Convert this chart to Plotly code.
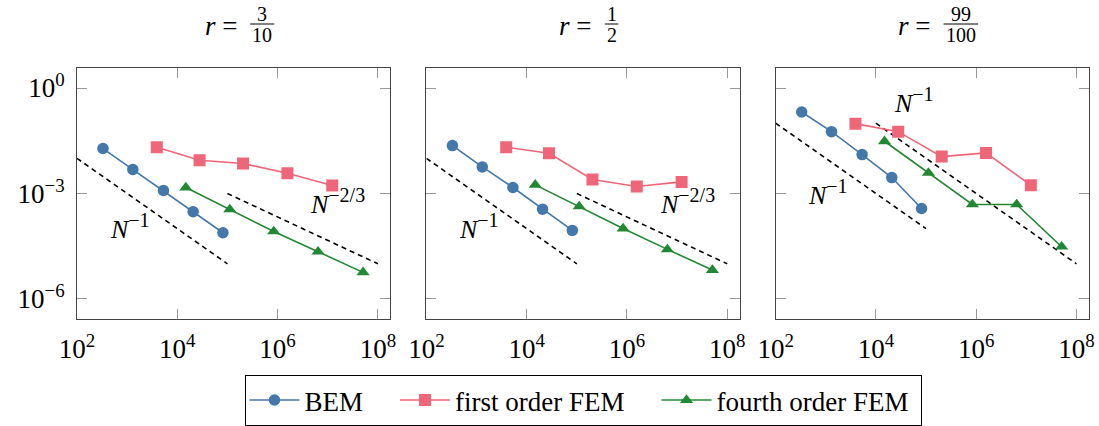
import plotly.graph_objects as go

FONT = "'Liberation Serif', 'Times New Roman', Times, 'DejaVu Serif', serif"

# ---------------- data ----------------
series_names = ["BEM", "first order FEM", "fourth order FEM"]
n_bem = [330, 1300, 5300, 20700, 81300]
n_fem1 = [3900, 27800, 205000, 1.57e6, 1.23e7]
n_fem4 = [14800, 111400, 837500, 6.41e6, 5.06e7]

title_num = ["3", "1", "99"]
title_den = ["10", "2", "100"]

bem_r1 = [1.90e-2, 4.80e-3, 1.22e-3, 3.02e-4, 7.64e-5]
fem1_r1 = [2.07e-2, 8.83e-3, 7.11e-3, 3.78e-3, 1.69e-3]
fem4_r1 = [1.48e-3, 3.52e-4, 8.34e-5, 2.21e-5, 5.71e-6]

bem_r2 = [2.31e-2, 5.71e-3, 1.48e-3, 3.59e-4, 8.91e-5]
fem1_r2 = [2.07e-2, 1.40e-2, 2.50e-3, 1.58e-3, 2.14e-3]
fem4_r2 = [1.76e-3, 4.28e-4, 1.01e-4, 2.57e-5, 6.65e-6]

bem_r3 = [2.08e-1, 5.75e-2, 1.28e-2, 2.84e-3, 3.75e-4]
fem1_r3 = [9.70e-2, 5.75e-2, 1.12e-2, 1.43e-2, 1.73e-3]
fem4_r3 = [3.06e-2, 3.86e-3, 4.88e-4, 4.88e-4, 3.06e-5]

# reference slopes (endpoints)
ref1_x = [1e2, 1e5]; ref1_y_r12 = [1e-2, 1e-5]          # N^-1
ref23_x = [1e5, 1e8]; ref23_y = [1e-3, 1e-5]            # N^-2/3
ref1a_y_r3 = [1e-1, 1e-4]                               # N^-1 (BEM, r=99/100)
ref1b_x = [1e4, 1e8]; ref1b_y_r3 = [1e-1, 1e-5]         # N^-1 (FEM, r=99/100)

x_tickvals = [1e2, 1e4, 1e6, 1e8]
x_ticktext = ["10<sup>2</sup>", "10<sup>4</sup>", "10<sup>6</sup>", "10<sup>8</sup>"]
y_tickvals = [1, 1e-3, 1e-6]
y_ticktext = ["10<sup>0</sup>", "10<sup>\u22123</sup>", "10<sup>\u22126</sup>"]

# ---------------- style ----------------
colors = ["#4477AA", "#EE6677", "#228833"]
symbols = ["circle", "square", "triangle-up"]
msizes = [11.5, 12, 11.5]

W, H = 1099, 426
ML, MR, MT, MB = 77, 10, 68, 107
PW = W - ML - MR
PH = H - MT - MB
domains = [[0.0, 0.3097], [0.3453, 0.6549], [0.6904, 1.0]]

def slope_label(exp):
    return "<i>N</i><sup><span style='font-size:20px'>\u2212" + exp + "</span></sup>"

panels = [
    dict(bem=bem_r1, fem1=fem1_r1, fem4=fem4_r1,
         refs=[(ref1_x, ref1_y_r12), (ref23_x, ref23_y)],
         labels=[("1", 3.05, -3.93), ("2/3", 7.2, -3.22)]),
    dict(bem=bem_r2, fem1=fem1_r2, fem4=fem4_r2,
         refs=[(ref1_x, ref1_y_r12), (ref23_x, ref23_y)],
         labels=[("1", 3.05, -3.93), ("2/3", 7.2, -3.22)]),
    dict(bem=bem_r3, fem1=fem1_r3, fem4=fem4_r3,
         refs=[(ref1_x, ref1a_y_r3), (ref1b_x, ref1b_y_r3)],
         labels=[("1", 3.04, -2.96), ("1", 4.75, -0.36)]),
]

fig = go.Figure()
annotations = []
shapes = []

def px2paper_x(v):
    return v / PW

def up2paper_y(v):
    return 1 + v / PH

legend_pad = ["\u00a0" * 4, "\u00a0" * 4, "\u00a0"]

for i, p in enumerate(panels):
    k = "" if i == 0 else str(i + 1)
    xa, ya = "x" + k, "y" + k
    for (rx, ry) in p["refs"]:
        fig.add_trace(go.Scatter(x=rx, y=ry, mode="lines", xaxis=xa, yaxis=ya,
                                 line=dict(color="black", width=1.6, dash="5px,4px"),
                                 showlegend=False, hoverinfo="skip"))
    for j, (nx, ey) in enumerate([(n_bem, p["bem"]), (n_fem1, p["fem1"]), (n_fem4, p["fem4"])]):
        fig.add_trace(go.Scatter(x=nx, y=ey, mode="lines+markers", xaxis=xa, yaxis=ya,
                                 name=series_names[j] + legend_pad[j],
                                 legendgroup=series_names[j],
                                 showlegend=(i == 0),
                                 line=dict(color=colors[j], width=1.6),
                                 marker=dict(symbol=symbols[j], size=msizes[j], color=colors[j],
                                             line=dict(width=0))))
    for (ex, lx, ly) in p["labels"]:
        annotations.append(dict(text=slope_label(ex), x=lx, y=ly, xref=xa, yref=ya,
                                showarrow=False, xanchor="center", yanchor="middle",
                                font=dict(family=FONT, size=26, color="black")))

    axis_common = dict(type="log", showline=True, linecolor="#444", linewidth=1,
                       mirror="ticks", ticks="inside", ticklen=10, tickcolor="#999",
                       tickwidth=1, showgrid=False, zeroline=False, automargin=False,
                       tickfont=dict(family=FONT, size=27, color="black"))
    fig.layout["xaxis" + k] = dict(axis_common, domain=domains[i], anchor=ya,
                                   range=[2, 8.25], tickvals=x_tickvals, ticktext=x_ticktext,
                                   ticklabelstandoff=6)
    fig.layout["yaxis" + k] = dict(axis_common, domain=[0, 1], anchor=xa,
                                   range=[-6.57, 0.57], tickvals=y_tickvals, ticktext=y_ticktext,
                                   showticklabels=(i == 0), ticklabelstandoff=6)

    # title: r = num/den as stacked fraction
    cx = (domains[i][0] + domains[i][1]) / 2 * PW  # pixels from plot-left
    fw = 10.5 * max(len(title_num[i]), len(title_den[i]))
    total = 45 + 12 + fw
    left = cx - total / 2
    eq_right = left + 45
    fc = left + 57 + fw / 2
    annotations.append(dict(text="<i>r</i> =", x=px2paper_x(eq_right), y=up2paper_y(42),
                            xref="paper", yref="paper", showarrow=False,
                            xanchor="right", yanchor="middle",
                            font=dict(family=FONT, size=27, color="black")))
    annotations.append(dict(text=title_num[i], x=px2paper_x(fc), y=up2paper_y(54),
                            xref="paper", yref="paper", showarrow=False,
                            xanchor="center", yanchor="middle",
                            font=dict(family=FONT, size=20, color="black")))
    annotations.append(dict(text=title_den[i], x=px2paper_x(fc), y=up2paper_y(33),
                            xref="paper", yref="paper", showarrow=False,
                            xanchor="center", yanchor="middle",
                            font=dict(family=FONT, size=20, color="black")))
    shapes.append(dict(type="line", xref="paper", yref="paper",
                       x0=px2paper_x(fc - fw / 2 - 1.5), x1=px2paper_x(fc + fw / 2 + 1.5),
                       y0=up2paper_y(44), y1=up2paper_y(44),
                       line=dict(color="black", width=1)))

fig.update_layout(
    width=W, height=H,
    margin=dict(l=ML, r=MR, t=MT, b=MB, autoexpand=False),
    paper_bgcolor="white", plot_bgcolor="white",
    font=dict(family=FONT, size=24, color="black"),
    annotations=annotations, shapes=shapes,
    legend=dict(orientation="h", x=0.5, xanchor="center",
                yref="container", y=1 - 375 / H, yanchor="top",
                bordercolor="black", borderwidth=1, bgcolor="white",
                font=dict(family=FONT, size=27, color="black"),
                itemwidth=50, tracegroupgap=0),
)

fig.write_html("out.html")
